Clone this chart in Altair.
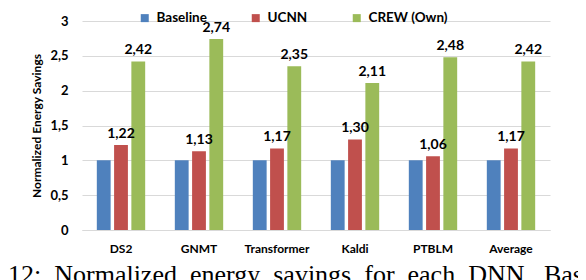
import altair as alt
import pandas as pd

models = ["DS2", "GNMT", "Transformer", "Kaldi", "PTBLM", "Average"]
series = ["Baseline", "UCNN", "CREW (Own)"]
baseline = [1.00, 1.00, 1.00, 1.00, 1.00, 1.00]
ucnn = [1.22, 1.13, 1.17, 1.30, 1.06, 1.17]
crew = [2.42, 2.74, 2.35, 2.11, 2.48, 2.42]
y_ticks = [0, 0.5, 1, 1.5, 2, 2.5, 3]
colors = ["#4F81BD", "#C0504D", "#9BBB59"]
caption_words = ["12:", "Normalized", "energy", "savings", "for", "each", "DNN.", "Bas"]
caption = "\u00A0\u00A0".join(caption_words)

rows = []
for s, vals, show in [("Baseline", baseline, False), ("UCNN", ucnn, True), ("CREW (Own)", crew, True)]:
    for m, v in zip(models, vals):
        rows.append({"model": m, "series": s, "value": v,
                     "label": (f"{v:.2f}".replace(".", ",") if show else "")})
df = pd.DataFrame(rows)

FONT = "Lato"

x = alt.X("model:N", sort=models,
          scale=alt.Scale(paddingInner=0.38, paddingOuter=0.19),
          axis=alt.Axis(title=None, labelAngle=0, labelFont=FONT, labelFontWeight="bold",
                        labelFontSize=12, labelColor="#000", labelPadding=13, ticks=False,
                        domainColor="#D9D9D9", grid=False))
xo = alt.XOffset("series:N", sort=series, scale=alt.Scale(paddingInner=0.2, domain=series))
y = alt.Y("value:Q", scale=alt.Scale(domain=[0, 3], nice=False),
          axis=alt.Axis(title="Normalized Energy Savings", values=y_ticks, format=".1~f",
                        labelExpr="replace(datum.label, '.', ',')", labelOverlap=False,
                        labelFont=FONT, labelFontWeight="bold", labelFontSize=13, labelColor="#000",
                        labelPadding=14, ticks=False, domain=False,
                        gridColor="#D9D9D9", titleFont=FONT, titleFontWeight="bold",
                        titleFontSize=12, titleColor="#000", titlePadding=6))

bars = alt.Chart(df).mark_bar().encode(
    x=x, xOffset=xo, y=y,
    color=alt.Color("series:N", sort=series,
                    scale=alt.Scale(domain=series, range=colors),
                    legend=alt.Legend(title=None, orient="none", direction="horizontal",
                                      legendX=56, legendY=-10, symbolType="square",
                                      symbolSize=64, symbolStrokeWidth=0,
                                      labelFont=FONT, labelFontWeight="bold", labelFontSize=13.5,
                                      labelColor="#000", columnPadding=42, labelOffset=5)),
)

labels = alt.Chart(df).mark_text(dy=-4, baseline="bottom", font=FONT, fontWeight="bold",
                                 fontSize=14, color="#000").encode(
    x=x, xOffset=xo, y=y,
    text="label:N",
)

chart = alt.layer(bars, labels).properties(
    width=468, height=209,
    padding={"left": 74, "top": 13, "right": 28, "bottom": 50},
    autosize=alt.AutoSizeParams(type="none"),
    title=alt.TitleParams(caption, orient="bottom", anchor="start", frame="group",
                          font="Liberation Serif", fontSize=26, fontWeight="normal",
                          color="#000", dx=-74, offset=8),
).configure_view(stroke=None)

chart.save("out.html", embed_options={"renderer": "svg", "actions": False})
